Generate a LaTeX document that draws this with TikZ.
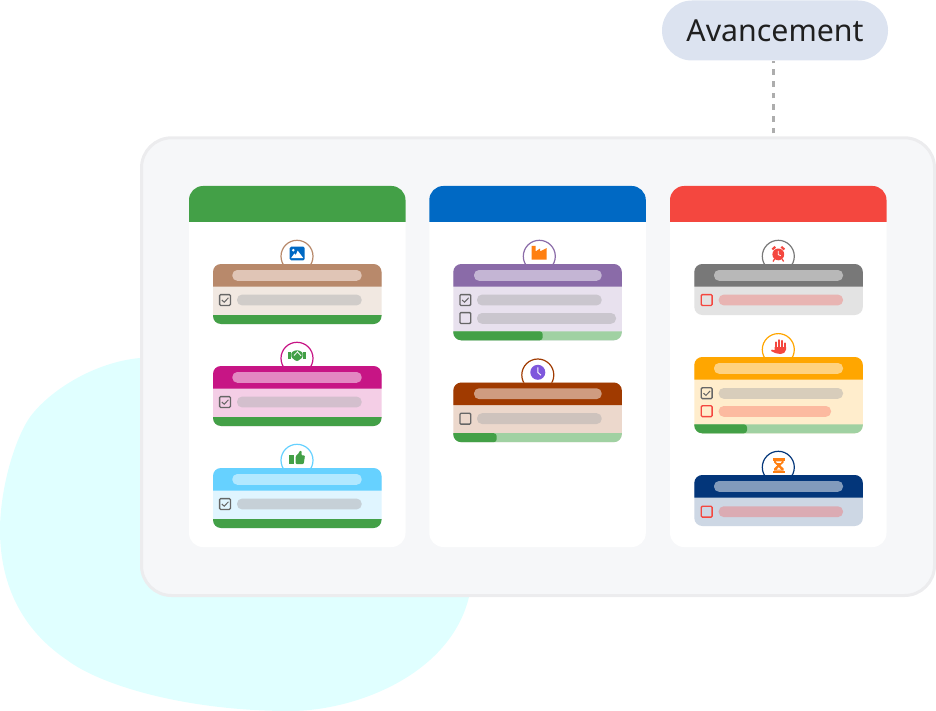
\documentclass[tikz,border=0pt]{standalone}
\usepackage{fontspec}
\setmainfont{Noto Sans}
\usetikzlibrary{positioning, calc}
\definecolor{cgreen}{HTML}{43A047}
\definecolor{clight}{HTML}{A0D1A2}
\definecolor{cblue}{HTML}{0069C4}
\definecolor{cred}{HTML}{F4473F}
\definecolor{cgrey}{HTML}{666666}
\definecolor{cblob}{HTML}{E0FFFF}
\definecolor{cpanel}{HTML}{F6F7F9}
\definecolor{cedge}{HTML}{ECECEE}
\definecolor{cpill}{HTML}{DCE3F0}
\definecolor{corange}{HTML}{FF7F11}
\definecolor{cviolet}{HTML}{7E57DC}
% card colours: head, body, title bar, row bar
\definecolor{imagehead}{HTML}{B8896B}\definecolor{imagebody}{HTML}{F1E8E1}\definecolor{imagetitle}{HTML}{E0C5B6}\definecolor{imagebar}{HTML}{D0CCC9}
\definecolor{shakehead}{HTML}{C71585}\definecolor{shakebody}{HTML}{F4CEE6}\definecolor{shaketitle}{HTML}{E388C2}\definecolor{shakebar}{HTML}{D3BFCD}
\definecolor{thumbhead}{HTML}{66D1FF}\definecolor{thumbbody}{HTML}{E0F5FF}\definecolor{thumbtitle}{HTML}{B2E8FF}\definecolor{thumbbar}{HTML}{C6D0D7}
\definecolor{planthead}{HTML}{8A6BA8}\definecolor{plantbody}{HTML}{E8E1EE}\definecolor{planttitle}{HTML}{C4B5D4}\definecolor{plantbar}{HTML}{CAC6CE}
\definecolor{clockhead}{HTML}{A03A00}\definecolor{clockbody}{HTML}{ECD8CC}\definecolor{clocktitle}{HTML}{CF9C80}\definecolor{clockbar}{HTML}{CEC3BD}
\definecolor{alarmhead}{HTML}{787878}\definecolor{alarmbody}{HTML}{E3E3E3}\definecolor{alarmtitle}{HTML}{B8B8B8}\definecolor{alarmbar}{HTML}{E8B4B2}
\definecolor{handhead}{HTML}{FFA600}\definecolor{handbody}{HTML}{FFEDCC}\definecolor{handtitle}{HTML}{FFD27F}\definecolor{handbar}{HTML}{D8CDBB}\definecolor{handbarb}{HTML}{FCBAA0}
\definecolor{glasshead}{HTML}{03367A}\definecolor{glassbody}{HTML}{CDD7E4}\definecolor{glasstitle}{HTML}{829BBC}\definecolor{glassbar}{HTML}{DBABB3}
\tikzset{
  pillbox/.style={fill=cpill, rounded corners=30pt, minimum width=226pt, minimum height=60pt, inner sep=0pt, text=black!88, font=\fontsize{30.3}{36}\selectfont},
  panelbox/.style={draw=cedge, fill=cpanel, line width=3pt, rounded corners=30pt, minimum width=793pt, minimum height=457.7pt, inner sep=0pt, outer sep=0pt, anchor=north west},
  colbox/.style={fill=white, rounded corners=14pt, minimum width=216.5pt, minimum height=361pt, inner sep=0pt, outer sep=0pt, anchor=north west},
  badge/.style={draw=#1, fill=white, circle, line width=1.2pt, minimum size=32pt, inner sep=0pt},
  link/.style={draw=black!32, line width=3pt, dash pattern=on 5.7pt off 6pt},
}
% column head, card, bars
\newcommand{\colhead}[2]{\fill[#2] (#1,222) [rounded corners=14pt] -- (#1,186) -- (#1+216.5,186) [sharp corners] -- (#1+216.5,222) -- cycle;}
\newcommand{\cardbox}[5]{%
  \fill[#5, rounded corners=8pt] (#1,#2) rectangle (#1+168.5,#2+#3);
  \fill[#4] (#1,#2+22.5) [rounded corners=8pt] -- (#1,#2) -- (#1+168.5,#2) [sharp corners] -- (#1+168.5,#2+22.5) -- cycle;}
\newcommand{\barfill}[4]{\fill[#4, rounded corners=5pt] (#1,#3) rectangle (#2,#3+10.8);}
\newcommand{\boxmark}[3]{\draw[#3, line width=1.3pt, rounded corners=1pt] (#1+.6,#2+.6) rectangle (#1+11.4,#2+11.4);}
\newcommand{\tickmark}[2]{\draw[cgrey, line width=1pt] (#1+2.8,#2+6) -- (#1+5.2,#2+8.2) -- (#1+9.4,#2+3.8);}
\newcommand{\fullbar}[2]{\fill[cgreen] (#1,#2) [rounded corners=8pt] -- (#1,#2+9) -- (#1+168.5,#2+9) [sharp corners] -- (#1+168.5,#2) -- cycle;}
\newcommand{\progress}[3]{%
  \fill[clight] (#1,#2) [rounded corners=8pt] -- (#1,#2+9) -- (#1+168.5,#2+9) [sharp corners] -- (#1+168.5,#2) -- cycle;
  \fill[cgreen] (#1,#2) [rounded corners=8pt] -- (#1,#2+9) [rounded corners=3pt] -- (#1+#3,#2+9) -- (#1+#3,#2) [sharp corners] -- cycle;}
\begin{document}
\begin{tikzpicture}[x=1pt, y=-1pt]
  \useasboundingbox (0,0) rectangle (936,711);
  % blob behind the board
  \fill[cblob] (140,358) .. controls (95,362) and (50,390) .. (30,417)
    .. controls (14,440) and (0,490) .. (0,530)
    .. controls (0,575) and (15,625) .. (67,660)
    .. controls (100,685) and (185,711) .. (290,711)
    .. controls (355,711) and (450,675) .. (469,597)
    -- (400,400) -- cycle;

  \node[pillbox] (pill) at (775,30.5) {Avancement};
  \coordinate (tick) at (773.7,133.5);
  \draw[link] (tick) -- (tick |- pill.south);

  \node[panelbox] (board) at (141.5,137.8) {};
  \node[colbox] (colgreen) at (189,186) {};
  \node[colbox] (colblue) at (429.3,186) {};
  \node[colbox] (colred) at (670,186) {};
  \colhead{189}{cgreen}
  \colhead{429.3}{cblue}
  \colhead{670}{cred}

  % first column
  \node[badge=imagehead] (bimage) at (297,256.3) {};
  \node[badge=shakehead] (bshake) at (297,358.3) {};
  \node[badge=thumbhead] (bthumb) at (297,460.3) {};
  \cardbox{213}{264}{60}{imagehead}{imagebody}
  \barfill{232.3}{361.7}{270}{imagetitle}
  \boxmark{219}{294}{cgrey}\tickmark{219}{294}
  \barfill{237}{361.7}{294.6}{imagebar}
  \fullbar{213}{315}
  \cardbox{213}{366}{60}{shakehead}{shakebody}
  \barfill{232.3}{361.7}{372}{shaketitle}
  \boxmark{219}{396}{cgrey}\tickmark{219}{396}
  \barfill{237}{361.7}{396.6}{shakebar}
  \fullbar{213}{417}
  \cardbox{213}{468}{60}{thumbhead}{thumbbody}
  \barfill{232.3}{361.7}{474}{thumbtitle}
  \boxmark{219}{498}{cgrey}\tickmark{219}{498}
  \barfill{237}{361.7}{498.6}{thumbbar}
  \fullbar{213}{519}

  % second column
  \node[badge=planthead] (bplant) at (539.3,256.3) {};
  \node[badge=clockhead] (bclock) at (537.8,375) {};
  \cardbox{453.3}{264}{76.3}{planthead}{plantbody}
  \barfill{474}{601.7}{270}{planttitle}
  \boxmark{459.3}{294}{cgrey}\tickmark{459.3}{294}
  \barfill{477}{601.7}{294.6}{plantbar}
  \boxmark{459.3}{312}{cgrey}
  \barfill{477}{616}{313}{plantbar}
  \progress{453.3}{331.3}{89.4}
  \cardbox{453.3}{382.5}{59.5}{clockhead}{clockbody}
  \barfill{474}{601.7}{388.3}{clocktitle}
  \boxmark{459.3}{412.7}{cgrey}
  \barfill{477}{601.7}{413.2}{clockbar}
  \progress{453.3}{433.2}{43.4}

  % third column
  \node[badge=alarmhead] (balarm) at (778.3,256.3) {};
  \node[badge=handhead] (bhand) at (778.3,349.6) {};
  \node[badge=glasshead] (bglass) at (778.3,467.3) {};
  \cardbox{694.3}{264}{51}{alarmhead}{alarmbody}
  \barfill{714}{843}{270}{alarmtitle}
  \boxmark{700.7}{294}{cred}
  \barfill{718.7}{843}{294.6}{alarmbar}
  \cardbox{694.3}{357}{76.3}{handhead}{handbody}
  \barfill{714}{843}{363}{handtitle}
  \boxmark{700.7}{387.2}{cgrey}\tickmark{700.7}{387.2}
  \barfill{718.7}{843}{388}{handbar}
  \boxmark{700.7}{405.2}{cred}
  \barfill{718.7}{831}{406}{handbarb}
  \progress{694.3}{424.3}{52.7}
  \cardbox{694.3}{475}{51}{glasshead}{glassbody}
  \barfill{714}{843}{481}{glasstitle}
  \boxmark{700.7}{505.7}{cred}
  \barfill{718.7}{843}{506.3}{glassbar}

  % image icon
  \fill[cblue, rounded corners=1.5pt] (289.7,246.7) rectangle (304.7,260.3);
  \fill[white] (293.3,250.2) circle (1.4);
  \fill[white] (291.2,258) -- (294.3,253.5) -- (295.8,255) -- (297.7,250.6) -- (303.2,258) -- cycle;
  % handshake icon
  \fill[cgreen] (288,351.7) rectangle (290.7,359.3);
  \fill[cgreen] (303.3,351.7) rectangle (306,359.3);
  \fill[cgreen, rounded corners=1pt] (291.3,352.5) -- (295.5,350.3) -- (298.5,350.3) -- (302.7,352.5) -- (302.7,357.3) -- (297.8,361) -- (296,361) -- (291.3,357.3) -- cycle;
  \draw[white, line width=.8pt] (294,355.5) -- (297.5,351.8) -- (301,355.8);
  % thumb icon
  \fill[cgreen] (289.3,455) rectangle (294.3,464);
  \fill[cgreen, rounded corners=1pt] (295.5,456.5) -- (299.3,452.5) -- (299.6,450.6) -- (301.8,451) -- (301.3,455.3) -- (305,455.5) -- (303.7,464) -- (295.5,464) -- cycle;
  % factory icon
  \fill[corange] (531.7,259.7) -- (531.7,246) -- (535.5,246) -- (535.5,251.5) -- (540,248.5) -- (540,251.5) -- (546.7,248) -- (546.7,259.7) -- cycle;
  % clock icon
  \fill[cviolet] (537.8,372.3) circle (7.5);
  \draw[white, line width=.9pt] (537.8,367.3) -- (537.8,372.5) -- (541,375.2);
  % alarm icon
  \fill[cred] (778.3,254.4) circle (5.9);
  \draw[cred, line width=2.2pt] (772.3,249.5) -- (775.3,246.8);
  \draw[cred, line width=2.2pt] (784.3,249.5) -- (781.3,246.8);
  \draw[cred, line width=1.3pt] (774.5,259) -- (773,261.5);
  \draw[cred, line width=1.3pt] (782.1,259) -- (783.6,261.5);
  \draw[white, line width=.8pt] (778.3,250.8) -- (778.3,254.6) -- (780.8,255.8);
  % hand icon
  \draw[cred, line width=2.3pt, line cap=round] (775.7,349) -- (775.7,342.5);
  \draw[cred, line width=2.3pt, line cap=round] (778.9,349) -- (778.9,340.3);
  \draw[cred, line width=2.3pt, line cap=round] (782,349) -- (782,341);
  \draw[cred, line width=2.3pt, line cap=round] (785,349) -- (785,343.5);
  \fill[cred] (774.6,347) -- (786.1,347) -- (786.1,349.5) .. controls (785.5,352.5) and (783.5,354) .. (780.5,354) .. controls (777,354) and (775,353) .. (771,351) -- (771.8,349.6) -- (774.6,350.3) -- cycle;
  % hourglass icon
  \fill[corange] (772.5,458.3) rectangle (785,460.5);
  \fill[corange] (772.5,470.5) rectangle (785,472.7);
  \fill[corange] (774,460.5) -- (783.6,460.5) -- (783.6,462.5) -- (780.3,465.5) -- (783.6,468.5) -- (783.6,470.5) -- (774,470.5) -- (774,468.5) -- (777.3,465.5) -- (774,462.5) -- cycle;
  \fill[white] (775.8,461.3) -- (781.8,461.3) -- (780.8,462.8) -- (776.8,462.8) -- cycle;
  \fill[white] (778.8,467.3) -- (780.8,469.5) -- (776.8,469.5) -- cycle;
\end{tikzpicture}
\end{document}
